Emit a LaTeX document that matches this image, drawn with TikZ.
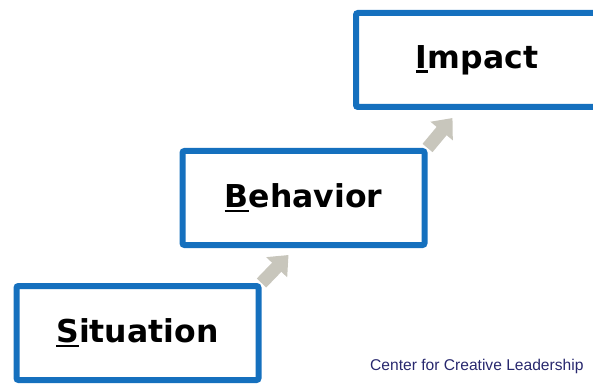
\documentclass[tikz,border=0pt]{standalone}
\usepackage{fontspec}
\setmainfont{DejaVu Sans}
\newfontfamily\footfont{Liberation Sans}
\usetikzlibrary{positioning,arrows.meta,backgrounds}

\definecolor{borderblue}{RGB}{21,112,190}
\definecolor{arrowgray}{RGB}{200,198,188}
\definecolor{footnavy}{RGB}{40,40,110}
\newcommand\keyletter[1]{\setbox0\hbox{#1}\rlap{\rule[-4.5pt]{\wd0}{2.5pt}}#1}

\begin{document}
\begin{tikzpicture}[x=1pt,y=1pt,
  stage/.style={draw=borderblue,line width=6pt,fill=white,rounded corners=2pt,
    minimum width=242pt,minimum height=94pt,inner sep=0pt,
    font=\fontsize{31.5}{31.5}\selectfont\bfseries},
  climb/.style={draw=arrowgray,line width=13pt,-{Triangle[width=28pt,length=17pt]}}]
  \clip (0,0) rectangle (593,383);
  \node[stage] (sit) at (137.5,50) {\keyletter{S}ituation};
  \node[stage] (beh) at (303.5,185) {\keyletter{B}ehavior};
  \node[stage] (imp) at (477,323) {\keyletter{I}mpact};
  \coordinate[above right=28pt and 27pt of sit.north east] (tipA);
  \coordinate[above right=30pt and 25pt of beh.north east] (tipB);
  \begin{pgfonlayer}{background}
    \draw[climb] (sit.north east) -- (tipA);
    \draw[climb] (beh.north east) -- (tipB);
  \end{pgfonlayer}
  \node[font=\footfont\fontsize{15.6}{15.6}\selectfont,text=footnavy,anchor=base west,inner sep=0pt]
    (ccl) at (370,13) {Center for Creative Leadership};
\end{tikzpicture}
\end{document}
